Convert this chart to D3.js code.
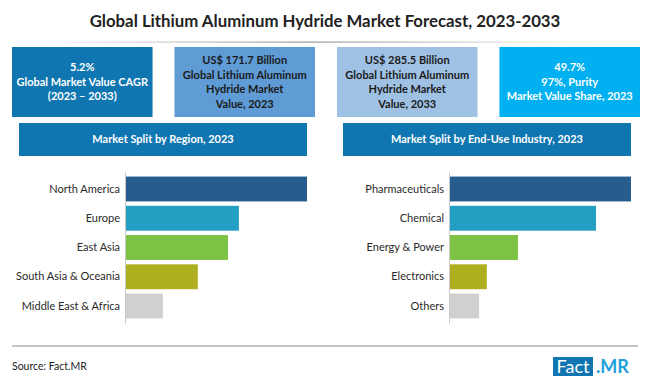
<!DOCTYPE html>
<html>
<head>
<meta charset="utf-8">
<script src="https://cdn.jsdelivr.net/npm/d3@7"></script>
<style>
  body { margin: 0; background: #fff; }
  svg { display: block; font-family: Lato, "Open Sans", sans-serif; }
</style>
</head>
<body>
<svg width="650" height="381"></svg>
<script>
// chart values
var titleText = "Global Lithium Aluminum Hydride Market Forecast, 2023-2033";

var kpiLines = [
  ["5.2%", "Global Market Value CAGR", "(2023 \u2013 2033)"],
  ["US$ 171.7 Billion", "Global Lithium Aluminum", "Hydride Market", "Value, 2023"],
  ["US$ 285.5 Billion", "Global Lithium Aluminum", "Hydride Market", "Value, 2033"],
  ["49.7%", "97%, Purity", "Market Value Share, 2023"]
];
var kpiColors = ["#0f76b1", "#5f9bd4", "#9fc2e4", "#00b0f0"];
var kpiText = ["#fff", "#1a1a1a", "#1a1a1a", "#fff"];

var regionNames = ["North America", "Europe", "East Asia", "South Asia & Oceania", "Middle East & Africa"];
var regionShare = [35, 21.9, 19.8, 14, 7.3];

var industryNames = ["Pharmaceuticals", "Chemical", "Energy & Power", "Electronics", "Others"];
var industryShare = [38, 30.7, 14.4, 7.9, 6.3];

var barColors = ["#275c8e", "#229fc3", "#7cc243", "#adaf1f", "#d1d0ce"];

var svg = d3.select("svg");

// title
svg.append("text")
    .attr("x", 325).attr("y", 27)
    .attr("text-anchor", "middle")
    .attr("font-weight", "bold")
    .attr("font-size", 16.8)
    .attr("fill", "#222")
    .text(titleText);

var grad = svg.append("defs").append("linearGradient").attr("id", "fade");
grad.append("stop").attr("offset", "0%").attr("stop-color", "#999").attr("stop-opacity", 0);
grad.append("stop").attr("offset", "50%").attr("stop-color", "#999").attr("stop-opacity", 1);
grad.append("stop").attr("offset", "100%").attr("stop-color", "#999").attr("stop-opacity", 0);
svg.append("rect")
    .attr("x", 30).attr("y", 41.5).attr("width", 560).attr("height", 1.2)
    .attr("fill", "url(#fade)");

// kpi boxes
var kpiX = d3.scaleBand().domain(d3.range(kpiLines.length)).range([12, 640]).paddingInner(0.135);
var kpi = svg.selectAll("g.kpi")
    .data(kpiLines)
    .enter().append("g")
    .attr("class", "kpi")
    .attr("transform", function(d, i) { return "translate(" + kpiX(i) + ",47)"; });
kpi.append("rect")
    .attr("width", kpiX.bandwidth())
    .attr("height", 70)
    .attr("fill", function(d, i) { return kpiColors[i]; });
kpi.each(function(lines, i) {
  var top = 35 - (lines.length - 1) * 14.5 / 2;
  d3.select(this).selectAll("text")
      .data(lines)
      .enter().append("text")
      .attr("x", kpiX.bandwidth() / 2)
      .attr("y", function(d, j) { return top + j * 14.5; })
      .attr("dy", "0.35em")
      .attr("text-anchor", "middle")
      .attr("font-weight", "bold")
      .attr("font-size", 11)
      .attr("fill", kpiText[i])
      .text(function(d) { return d; });
});

// one panel = header + horizontal bars
function drawPanel(x0, x1, heading, names, values) {
  svg.append("rect")
      .attr("x", x0).attr("y", 123)
      .attr("width", x1 - x0).attr("height", 33)
      .attr("fill", "#0f76b1");
  svg.append("text")
      .attr("x", (x0 + x1) / 2).attr("y", 139.5)
      .attr("dy", "0.35em")
      .attr("text-anchor", "middle")
      .attr("font-weight", "bold")
      .attr("font-size", 11)
      .attr("fill", "#fff")
      .text(heading);

  var axisX = x0 + 106;
  var x = d3.scaleLinear().domain([0, d3.max(values)]).range([axisX, x1]);
  var y = d3.scaleBand().domain(names).range([172, 323]).paddingInner(0.15).paddingOuter(0.156);

  svg.append("g")
      .selectAll("rect")
      .data(values)
      .enter().append("rect")
      .attr("x", x(0))
      .attr("y", function(d, i) { return y(names[i]); })
      .attr("width", function(d) { return x(d) - x(0); })
      .attr("height", y.bandwidth())
      .attr("fill", function(d, i) { return barColors[i]; });

  var ax = svg.append("g")
      .attr("transform", "translate(" + axisX + ",0)")
      .call(d3.axisLeft(y).tickSize(0).tickSizeOuter(0).tickPadding(5));
  ax.select(".domain").attr("stroke", "#c8c8c8");
  ax.selectAll("text")
      .attr("font-family", "Lato, 'Open Sans', sans-serif")
      .attr("font-size", 11)
      .attr("fill", "#2a2a2a");
}

drawPanel(19, 307, "Market Split by Region, 2023", regionNames, regionShare);
drawPanel(343, 631, "Market Split by End-Use Industry, 2023", industryNames, industryShare);

// footer
svg.append("line")
    .attr("x1", 12).attr("x2", 638)
    .attr("y1", 346).attr("y2", 346)
    .attr("stroke", "#8a8a8a").attr("stroke-width", 1);
svg.append("text")
    .attr("x", 12).attr("y", 366)
    .attr("dy", "0.35em")
    .attr("font-size", 10.5)
    .attr("fill", "#222")
    .text("Source: Fact.MR");

svg.append("rect")
    .attr("x", 553).attr("y", 357).attr("width", 40).attr("height", 19)
    .attr("fill", "#0f76b1");
svg.append("text")
    .attr("x", 573).attr("y", 366.5).attr("dy", "0.35em")
    .attr("text-anchor", "middle")
    .attr("font-size", 18)
    .attr("fill", "#fff")
    .text("Fact");
svg.append("text")
    .attr("x", 596).attr("y", 366.5).attr("dy", "0.35em")
    .attr("font-size", 18)
    .attr("font-weight", "bold")
    .attr("fill", "#1c9fdc")
    .text(".MR");
</script>
</body>
</html>
